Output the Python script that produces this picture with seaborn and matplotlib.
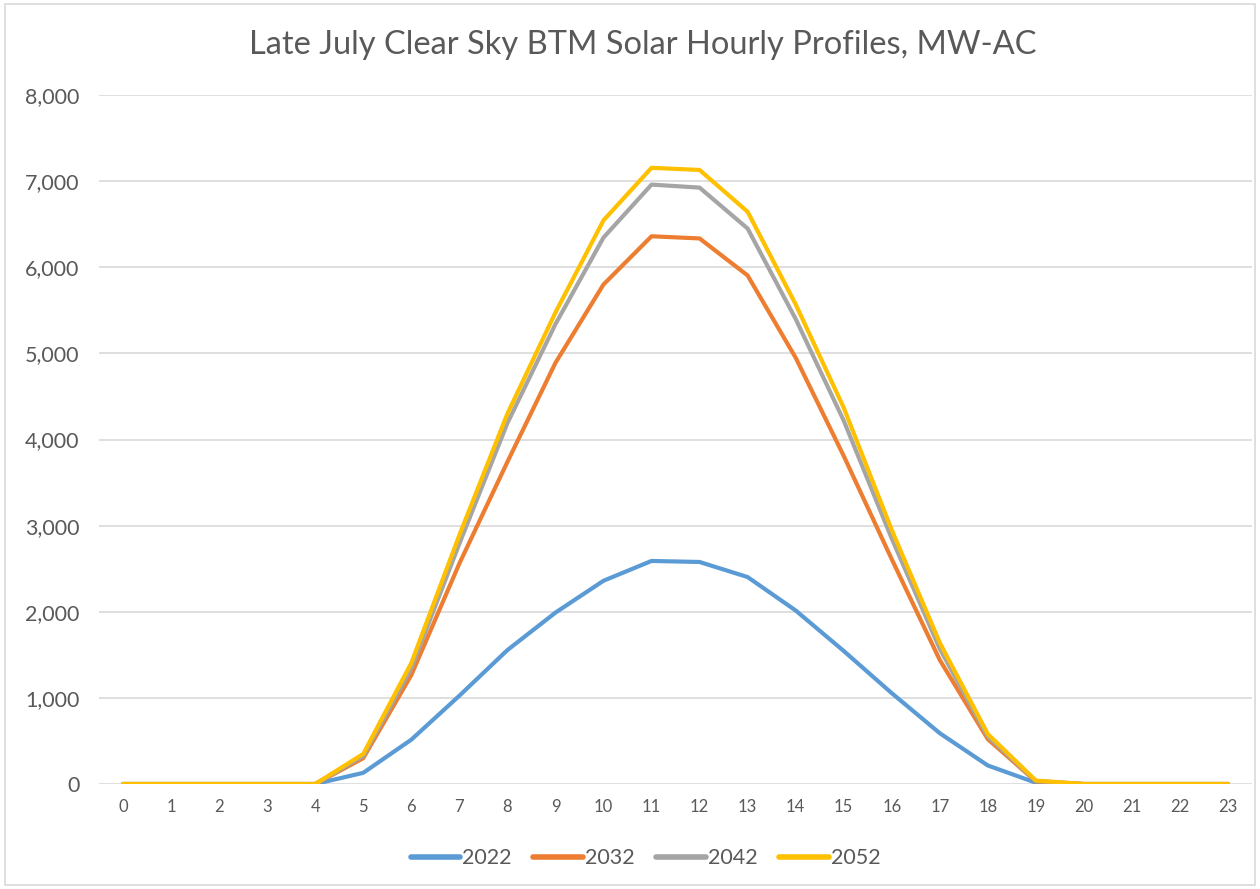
import matplotlib
matplotlib.use("Agg")
import matplotlib.pyplot as plt
import matplotlib.ticker as mticker
from matplotlib.patches import Rectangle
import seaborn as sns
import pandas as pd

hours = list(range(24))
years = ["2022", "2032", "2042", "2052"]
v2022 = [0, 0, 0, 0, 0, 130, 515, 1025, 1555, 1990, 2360, 2590, 2578, 2403, 2015, 1545, 1055, 590, 215, 15, 0, 0, 0, 0]
v2032 = [0, 0, 0, 0, 0, 300, 1265, 2560, 3740, 4890, 5800, 6360, 6335, 5905, 4950, 3810, 2610, 1440, 520, 30, 0, 0, 0, 0]
v2042 = [0, 0, 0, 0, 0, 325, 1345, 2790, 4190, 5340, 6345, 6960, 6925, 6450, 5400, 4220, 2850, 1570, 550, 35, 0, 0, 0, 0]
v2052 = [0, 0, 0, 0, 0, 350, 1405, 2890, 4300, 5475, 6545, 7155, 7130, 6645, 5570, 4370, 2950, 1640, 580, 40, 0, 0, 0, 0]
colors = ["#5B9BD5", "#ED7D31", "#A5A5A5", "#FFC000"]
title = "Late July Clear Sky BTM Solar Hourly Profiles, MW-AC"

series = [v2022, v2032, v2042, v2052]
df = pd.DataFrame({
    "hour": [h for _ in years for h in hours],
    "value": [v for s in series for v in s],
    "year": [y for y in years for _ in hours],
})

sns.set_theme(style="white")
plt.rcParams["font.family"] = ["Lato", "DejaVu Sans"]

fig = plt.figure(figsize=(12.6, 8.89), dpi=100)
ax = fig.add_axes([0.0786, 0.1181, 0.9151, 0.775])

sns.lineplot(data=df, x="hour", y="value", hue="year", palette=colors,
             linewidth=3.0, ax=ax, legend=True, solid_capstyle="round")

ax.set_xlim(-0.5, 23.5)
ax.set_ylim(0, 8000)
ax.set_xticks(hours)
ax.set_xticklabels([str(h) for h in hours])
ax.set_yticks(range(0, 8001, 1000))
ax.yaxis.set_major_formatter(mticker.FuncFormatter(lambda v, p: f"{int(v):,}"))
ax.grid(axis="y", color="#D9D9D9", linewidth=1.2)
ax.set_axisbelow(True)
for sp in ax.spines.values():
    sp.set_visible(False)
ax.tick_params(axis="y", labelsize=15.5, colors="#595959", length=0, pad=14)
ax.tick_params(axis="x", labelsize=12, colors="#595959", length=0, pad=11)
ax.set_xlabel("")
ax.set_ylabel("")

fig.text(0.51, 0.949, title, ha="center", va="center", fontsize=23.5, color="#595959")

handles, labels = ax.get_legend_handles_labels()
leg = ax.legend(handles, labels, loc="center", bbox_to_anchor=(0.474, -0.108), ncol=4,
                frameon=False, fontsize=15.5, handlelength=2.3, handletextpad=0.1,
                columnspacing=1.0)
for t in leg.get_texts():
    t.set_color("#595959")
for line in leg.get_lines():
    line.set_linewidth(4)
    line.set_solid_capstyle("round")

fig.patches.append(Rectangle((0.004, 0.004), 0.992, 0.992, transform=fig.transFigure,
                             fill=False, edgecolor="#D9D9D9", linewidth=1.2))

fig.savefig("out.png", dpi=100)
